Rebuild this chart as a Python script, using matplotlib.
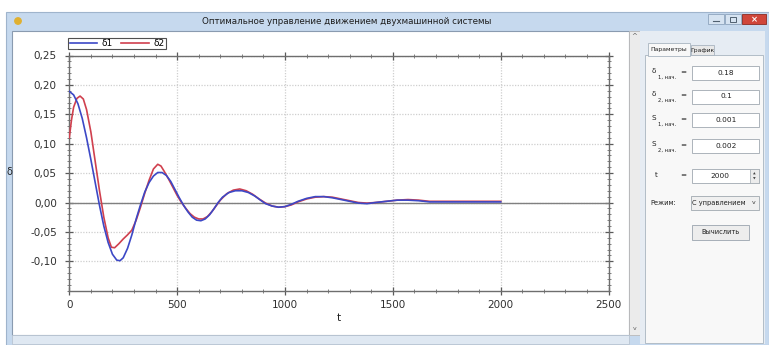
import matplotlib.pyplot as plt
from matplotlib.patches import Rectangle
from matplotlib.ticker import MultipleLocator, FuncFormatter

# δ1 (blue) and δ2 (red) transients, read point by point
t1 = [0, 20, 40, 60, 80, 100, 120, 140, 160, 180, 200, 220, 235, 250, 270, 290,
      310, 330, 350, 370, 390, 410, 430, 450, 470, 490, 510, 530, 550, 570, 590,
      610, 630, 650, 670, 690, 710, 740, 770, 800, 830, 860, 890, 910, 940, 970,
      1000, 1030, 1060, 1100, 1140, 1180, 1220, 1260, 1300, 1340, 1380, 1420,
      1470, 1520, 1570, 1620, 1670, 1750, 1850, 2000]
d1 = [0.189, 0.183, 0.168, 0.143, 0.110, 0.073, 0.034, -0.005, -0.040, -0.068,
      -0.088, -0.098, -0.099, -0.094, -0.078, -0.055, -0.028, -0.004, 0.018,
      0.034, 0.045, 0.051, 0.051, 0.046, 0.036, 0.022, 0.008, -0.005, -0.016,
      -0.025, -0.030, -0.031, -0.028, -0.021, -0.011, 0.000, 0.009, 0.017, 0.020,
      0.020, 0.017, 0.011, 0.003, -0.002, -0.006, -0.008, -0.007, -0.003, 0.002,
      0.007, 0.010, 0.010, 0.008, 0.005, 0.002, -0.001, -0.002, 0.000, 0.002,
      0.004, 0.004, 0.003, 0.001, 0.001, 0.001, 0.001]

t2 = [0, 10, 20, 35, 50, 65, 80, 100, 120, 140, 160, 180, 195, 210, 230, 250,
      270, 290, 310, 330, 350, 370, 390, 410, 425, 440, 460, 480, 500, 520, 540,
      560, 580, 600, 620, 640, 660, 680, 700, 730, 760, 790, 820, 850, 880, 910,
      940, 970, 1000, 1030, 1060, 1100, 1140, 1180, 1220, 1260, 1300, 1340, 1380,
      1420, 1470, 1520, 1570, 1620, 1670, 1750, 1850, 2000]
d2 = [0.110, 0.140, 0.162, 0.177, 0.181, 0.176, 0.158, 0.120, 0.070, 0.020,
      -0.025, -0.060, -0.076, -0.077, -0.070, -0.062, -0.055, -0.047, -0.030,
      -0.008, 0.016, 0.038, 0.057, 0.065, 0.062, 0.053, 0.040, 0.026, 0.012,
      0.000, -0.010, -0.019, -0.025, -0.028, -0.028, -0.024, -0.016, -0.006,
      0.004, 0.015, 0.021, 0.023, 0.020, 0.014, 0.006, -0.001, -0.006, -0.008,
      -0.007, -0.004, 0.001, 0.006, 0.009, 0.010, 0.009, 0.006, 0.003, 0.000,
      -0.001, 0.000, 0.002, 0.004, 0.005, 0.004, 0.002, 0.002, 0.002, 0.002]

series_names = ['δ1', 'δ2']
window_title = 'Оптимальное управление движением двухмашинной системы'
param_names = [('δ', '1, нач.'), ('δ', '2, нач.'), ('S', '1, нач.'), ('S', '2, нач.')]
param_values = ['0.18', '0.1', '0.001', '0.002']
t_end = '2000'
mode = 'С управлением'

W, H = 769, 345
fig = plt.figure(figsize=(W / 100, H / 100), dpi=100)
fig.patch.set_facecolor('white')

# --- window chrome, drawn in pixel coordinates ---
bg = fig.add_axes([0, 0, 1, 1])
bg.set_xlim(0, W)
bg.set_ylim(H, 0)
bg.axis('off')

def box(x0, y0, x1, y1, fc, ec='none', lw=0.8, z=1):
    bg.add_patch(Rectangle((x0, y0), x1 - x0, y1 - y0, facecolor=fc,
                           edgecolor=ec, linewidth=lw, zorder=z))

frame = '#c6d9ee'
box(6, 12, W, H, frame, '#9fb4cc', 0.8)
box(12, 31, 629, 335, 'white', '#8a9bb0', 0.8, z=2)
bg.text(347, 21.5, window_title, ha='center', va='center', fontsize=6.3,
        color='#1e1e1e')
bg.add_patch(plt.Circle((18, 21), 3.2, color='#e0b030', zorder=3))
# caption buttons
box(708, 14, 724, 24, '#d6e3f1', '#8ea4bd', 0.6, z=3)
box(725, 14, 741, 24, '#d6e3f1', '#8ea4bd', 0.6, z=3)
box(742, 14, 766, 24, '#d0463a', '#8b2a22', 0.6, z=3)
bg.plot([713, 719], [21, 21], color='#506070', lw=0.8, zorder=4)
box(730, 17, 736, 21.5, 'none', '#506070', 0.7, z=4)
bg.text(754, 19.3, '×', ha='center', va='center', fontsize=6, color='white',
        fontweight='bold', zorder=4)

# scrollbars
box(629, 31, 640, 335, '#ebebeb', '#b8b8b8', 0.6, z=2)
bg.text(634.5, 36, '^', ha='center', va='center', fontsize=5, color='#606060', zorder=3)
bg.text(634.5, 329, 'v', ha='center', va='center', fontsize=4.5, color='#606060', zorder=3)
box(12, 335, 629, 344, '#dfe8f2', '#b8c4d2', 0.6, z=2)

# right panel with tab control
box(640, 31, 765, 344, '#e6ecf3', z=2)
box(645, 55, 763, 343, '#f8f8f8', '#a8b4c0', 0.6, z=3)
box(648, 43, 690, 56, '#f8f8f8', '#a8b4c0', 0.6, z=4)
box(691, 45, 714, 55, '#e8e8e8', '#a8b4c0', 0.6, z=3)
bg.text(669, 49.5, 'Параметры', ha='center', va='center', fontsize=4.4, color='#202020', zorder=5)
bg.text(702.5, 50.5, 'График', ha='center', va='center', fontsize=4.4, color='#202020', zorder=5)

rows_y = [73, 96.5, 120, 146]
for (sym, sub), val, yc in zip(param_names, param_values, rows_y):
    bg.text(654, yc - 2, sym, ha='center', va='center', fontsize=5.2, color='#202020', zorder=5)
    bg.text(667, yc + 4, sub, ha='center', va='center', fontsize=3.8, color='#202020', zorder=5)
    bg.text(683, yc - 1, '=', ha='center', va='center', fontsize=5.2, color='#202020', zorder=5)
    box(692, yc - 7, 759, yc + 7, 'white', '#a0a8b0', 0.6, z=4)
    bg.text(726, yc, val, ha='center', va='center', fontsize=5.3, color='#202020', zorder=5)

box(692, 169, 759, 183, 'white', '#a0a8b0', 0.6, z=4)
box(750, 169, 759, 183, '#ececec', '#a0a8b0', 0.5, z=5)
bg.text(754.5, 176, '▲\n▼', ha='center', va='center', fontsize=2.5, linespacing=1.1,
        color='#404040', zorder=6)
bg.text(656, 175, 't', ha='center', va='center', fontsize=5.2, color='#202020', zorder=5)
bg.text(683, 175, '=', ha='center', va='center', fontsize=5.2, color='#202020', zorder=5)
bg.text(720, 176, t_end, ha='center', va='center', fontsize=5.3, color='#202020', zorder=5)

bg.text(663, 203, 'Режим:', ha='center', va='center', fontsize=4.8, color='#202020', zorder=5)
box(691, 196, 759, 210, '#f0f0f0', '#a0a8b0', 0.6, z=4)
bg.text(719, 203, mode, ha='center', va='center', fontsize=4.8, color='#202020', zorder=5)
bg.text(754, 203, 'v', ha='center', va='center', fontsize=4.5, color='#404040', zorder=5)

box(692, 225, 749, 240, '#ededed', '#9aa4ae', 0.6, z=4)
bg.text(720.5, 232.5, 'Вычислить', ha='center', va='center', fontsize=4.8,
        color='#202020', zorder=5)

# --- chart ---
ax_l, ax_r, ax_t, ax_b = 69.3, 608.6, 55.5, 290.7
ax = fig.add_axes([ax_l / W, (H - ax_b) / H, (ax_r - ax_l) / W, (ax_b - ax_t) / H])
ax.set_zorder(5)
ax.patch.set_alpha(0)

ax.plot(t1, d1, color='#3c48c6', lw=1.2, label=series_names[0], zorder=4)
ax.plot(t2, d2, color='#d0404e', lw=1.2, label=series_names[1], zorder=3)
ax.axhline(0, color='#808080', lw=1.0, zorder=2)

ax.set_xlim(0, 2500)
ax.set_ylim(-0.15, 0.25)
ax.set_yticks([-0.10, -0.05, 0.00, 0.05, 0.10, 0.15, 0.20, 0.25])
ax.xaxis.set_major_locator(MultipleLocator(500))
ax.xaxis.set_minor_locator(MultipleLocator(100))
ax.yaxis.set_minor_locator(MultipleLocator(0.01))
ax.yaxis.set_major_formatter(FuncFormatter(lambda v, p: f'{v:.2f}'.replace('.', ',')))
ax.grid(True, which='major', linestyle=(0, (1, 1.2)), color='#cfcfcf', lw=0.9)

for s in ax.spines.values():
    s.set_color('#6e6e6e')
    s.set_linewidth(1.0)
ax.tick_params(which='major', direction='inout', length=6, width=0.9, color='#5a5a5a',
               top=True, right=True, labelsize=7.5, labelcolor='#303030')
ax.tick_params(which='minor', direction='inout', length=3.5, width=0.6, color='#6a6a6a',
               top=True, right=True)
ax.tick_params(axis='x', pad=4)
ax.tick_params(axis='y', pad=6)

ax.set_xlabel('t', fontsize=7.5, color='#202020', labelpad=2)
fig.text(9 / W, (H - 172) / H, 'δ', fontsize=7, color='#202020', ha='center', va='center')

leg = ax.legend(ncol=2, loc='lower left', bbox_to_anchor=(-0.002, 1.026),
                borderaxespad=0, fontsize=6.5, handlelength=3.0, columnspacing=1.0,
                handletextpad=0.5, borderpad=0.15, fancybox=False, framealpha=1)
leg.get_frame().set_edgecolor('#505050')
leg.get_frame().set_linewidth(0.8)

fig.savefig('out.png', dpi=100)
